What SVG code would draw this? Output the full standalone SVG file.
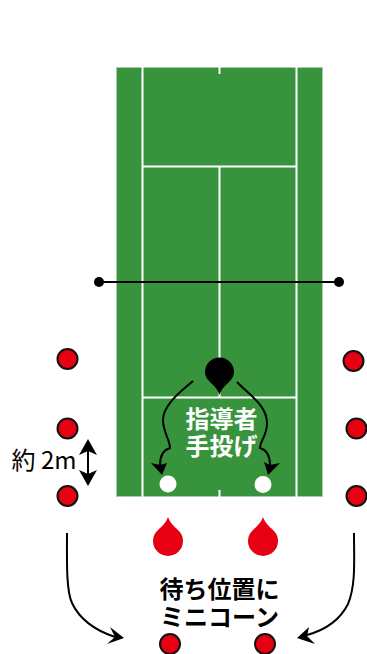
<svg xmlns="http://www.w3.org/2000/svg" width="367" height="654" viewBox="0 0 367 654">
<style>
.ln{stroke:#fff;stroke-width:2;fill:none}
.c{fill:#e60012;stroke:#111;stroke-width:2}
.cone{fill:#e60012}
.a{fill:none;stroke:#000;stroke-width:2}
.h{fill:#000}
.t{font-family:"Noto Sans CJK JP","Noto Sans",sans-serif;text-anchor:middle}
.b{font-weight:700;font-size:24px}
</style>
<defs>
<path id="drop" d="M0-24C2-18 6-15 10-11C13-8 15-5 15 0A15 15 0 0 1-15 0C-15-5-13-8-10-11C-6-15-2-18 0-24Z"/>
</defs>
<g id="court">
<rect x="116.5" y="67.5" width="206" height="429" fill="#38943c" stroke="#a8c9aa" stroke-width="1"/>
<path class="ln" d="M142.5 67V497M296.5 67V497M142.5 166.5H296.5M142.5 397.5H296.5M219.5 166.5V397.5M219.5 67V74M219.5 490V497"/>
</g>
<g id="net"><path d="M99 282H339" stroke="#000" stroke-width="2" fill="none"/><circle cx="99" cy="282" r="5"/><circle cx="339" cy="282" r="5"/></g>
<g id="connectors">
<path class="a" d="M193 381C184 389 163 404 163 420C163 432 170 440 170 448C163 450 160 456 160 465"/>
<path class="h" d="M162 475L151 463L160 465L167 463Z"/>
<path class="a" d="M237 382C248 394 267 405 267 423C267 436 260 441 260 448C267 450 270 456 270 465"/>
<path class="h" d="M268 475L264 462L270 465L280 463Z"/>
<path class="a" d="M67 533C67 560 66 590 72 603C80 620 97 631 115 637"/>
<path class="h" d="M124 638L110 627L115 637L107 644Z"/>
<path class="a" d="M354 533C354 560 356 585 348 604C340 620 325 630 307 635"/>
<path class="h" d="M297 638L309 627L307 636L315 644Z"/>
<path class="a" d="M88 450V475"/>
<path class="h" d="M88 439L97 455L88 451L79 455ZM88 486L97 470L88 474L79 470Z"/>
</g>
<g id="cone-l1"><circle class="c" cx="67.5" cy="359" r="10"/></g>
<g id="cone-l2"><circle class="c" cx="67.5" cy="428.5" r="10"/></g>
<g id="cone-l3"><circle class="c" cx="67.5" cy="496" r="10"/></g>
<g id="cone-r1"><circle class="c" cx="353.5" cy="361" r="10"/></g>
<g id="cone-r2"><circle class="c" cx="356.5" cy="428.5" r="10"/></g>
<g id="cone-r3"><circle class="c" cx="356.5" cy="496" r="10"/></g>
<g id="cone-b1"><circle class="c" cx="170" cy="644" r="10"/></g>
<g id="cone-b2"><circle class="c" cx="265" cy="644" r="10"/></g>
<g id="ball-l"><circle cx="168" cy="484" r="8.5" fill="#fff"/></g>
<g id="ball-r"><circle cx="263" cy="484.5" r="8.5" fill="#fff"/></g>
<g id="player-l"><use href="#drop" class="cone" x="168" y="541"/></g>
<g id="player-r"><use href="#drop" class="cone" x="263" y="541"/></g>
<g id="coach"><path d="M219.500 395C217 388 214 386 210 382C207 379 205 376 205 372A14.500 14.500 0 0 1 234 372C234 376 232 379 229 382C225 386 222 388 219.500 395Z"/></g>
<g id="labels">
<text class="t" x="44" y="469" font-size="24">約 2m</text>
<text class="t b" x="221.500" y="428" fill="#fff">指導者</text>
<text class="t b" x="221.500" y="455" fill="#fff">手投げ</text>
<text class="t b" x="219.500" y="598" fill="#000">待ち位置に</text>
<text class="t b" x="219.500" y="626" fill="#000">ミニコーン</text>
</g>
</svg>
